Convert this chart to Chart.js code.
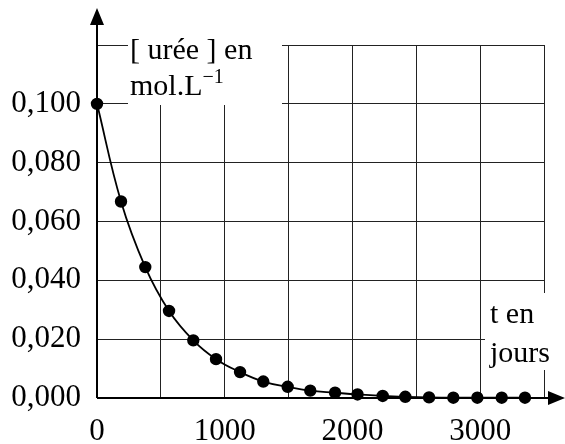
<!DOCTYPE html>
<html>
<head>
<meta charset="utf-8">
<script src="https://cdn.jsdelivr.net/npm/chart.js@4/dist/chart.umd.min.js"></script>
<style>
  html, body { margin: 0; padding: 0; background: #fff; }
  #wrap { width: 565px; height: 444px; }
</style>
</head>
<body>
<div id="wrap"><canvas id="uree" width="565" height="444"></canvas></div>
<script>
// temps en jours
var jours = [0, 188, 378, 564, 754, 932, 1120, 1302, 1493, 1670, 1864, 2040, 2237, 2414, 2600, 2790, 2978, 3169, 3351];
// [urée] en mol.L-1
var uree = [0.100, 0.0668, 0.0445, 0.0296, 0.0196, 0.0132, 0.0088, 0.0056, 0.0038, 0.0025, 0.0018, 0.0012, 0.0007, 0.0004, 0.0002, 0.0001, 0.0001, 0.0001, 0.0001];
var xLabels = [0, 1000, 2000, 3000];

var police = '"Liberation Serif", "Times New Roman", serif';

var points = [];
for (var i = 0; i < jours.length; i++) {
    points.push({ x: jours[i], y: uree[i] });
}

// axes avec fleches + etiquettes sur fond blanc
const decor = {
    id: 'decor',
    beforeDatasetsDraw(chart) {
        const ctx = chart.ctx;
        const xs = chart.scales.x, ys = chart.scales.y;
        const x0 = xs.getPixelForValue(0);
        const y0 = ys.getPixelForValue(0);
        const right = chart.chartArea.right;

        ctx.save();
        // cadres blancs des legendes
        ctx.fillStyle = '#fff';
        ctx.fillRect(x0 + 31, 26, 154, 79);
        ctx.fillRect(right - 59, y0 - 105, 80, 77);

        ctx.fillStyle = '#000';
        ctx.font = '30px ' + police;
        ctx.textBaseline = 'alphabetic';
        ctx.fillText('[ urée ] en', x0 + 33, 59);
        ctx.fillText('mol.L', x0 + 33, 95);
        var w = ctx.measureText('mol.L').width;
        ctx.font = '20px ' + police;
        ctx.fillText('\u22121', x0 + 33 + w, 83);
        ctx.font = '30px ' + police;
        ctx.fillText('t en', right - 54, y0 - 75);
        ctx.fillText('jours', right - 54, y0 - 36);

        // axes
        ctx.strokeStyle = '#000';
        ctx.lineWidth = 2;
        ctx.beginPath();
        ctx.moveTo(x0, y0);
        ctx.lineTo(x0, 24);
        ctx.moveTo(x0, y0);
        ctx.lineTo(right + 6, y0);
        ctx.stroke();
        ctx.beginPath();
        ctx.moveTo(x0, 8);
        ctx.lineTo(x0 - 7, 25);
        ctx.lineTo(x0 + 7, 25);
        ctx.closePath();
        ctx.moveTo(right + 21, y0);
        ctx.lineTo(right + 4, y0 - 7);
        ctx.lineTo(right + 4, y0 + 7);
        ctx.closePath();
        ctx.fill();
        ctx.restore();
    }
};

const ctx = document.getElementById('uree');
window.urea = new Chart(ctx, {
    type: 'scatter',
    data: {
        datasets: [{
            data: points,
            showLine: true,
            tension: 0.4,
            borderColor: '#000',
            borderWidth: 1.8,
            backgroundColor: '#000',
            pointRadius: 5.3,
            pointHoverRadius: 5.3,
            clip: false,
        }],
    },
    options: {
        responsive: false,
        animation: false,
        layout: { padding: { top: 45, right: 21, left: 0, bottom: 0 } },
        plugins: {
            legend: { display: false },
            tooltip: { enabled: false },
        },
        scales: {
            x: {
                type: 'linear',
                min: 0,
                max: 3500,
                afterFit: function(s) { s.height = 46; },
                border: { display: false },
                grid: { color: '#222', lineWidth: 1, drawTicks: false },
                ticks: {
                    stepSize: 500,
                    padding: 15,
                    maxRotation: 0,
                    autoSkip: false,
                    color: '#000',
                    font: { family: police, size: 31 },
                    callback: function(v) { return xLabels.indexOf(v) >= 0 ? String(v) : ''; },
                },
            },
            y: {
                min: 0,
                max: 0.12,
                afterFit: function(s) { s.width = 97; },
                border: { display: false },
                grid: { color: '#222', lineWidth: 1, drawTicks: false },
                ticks: {
                    stepSize: 0.02,
                    padding: 16,
                    color: '#000',
                    font: { family: police, size: 31 },
                    callback: function(v) {
                        if (v > 0.11) return '';
                        return v.toFixed(3).replace('.', ',');
                    },
                },
            },
        },
    },
    plugins: [decor],
});
</script>
</body>
</html>
